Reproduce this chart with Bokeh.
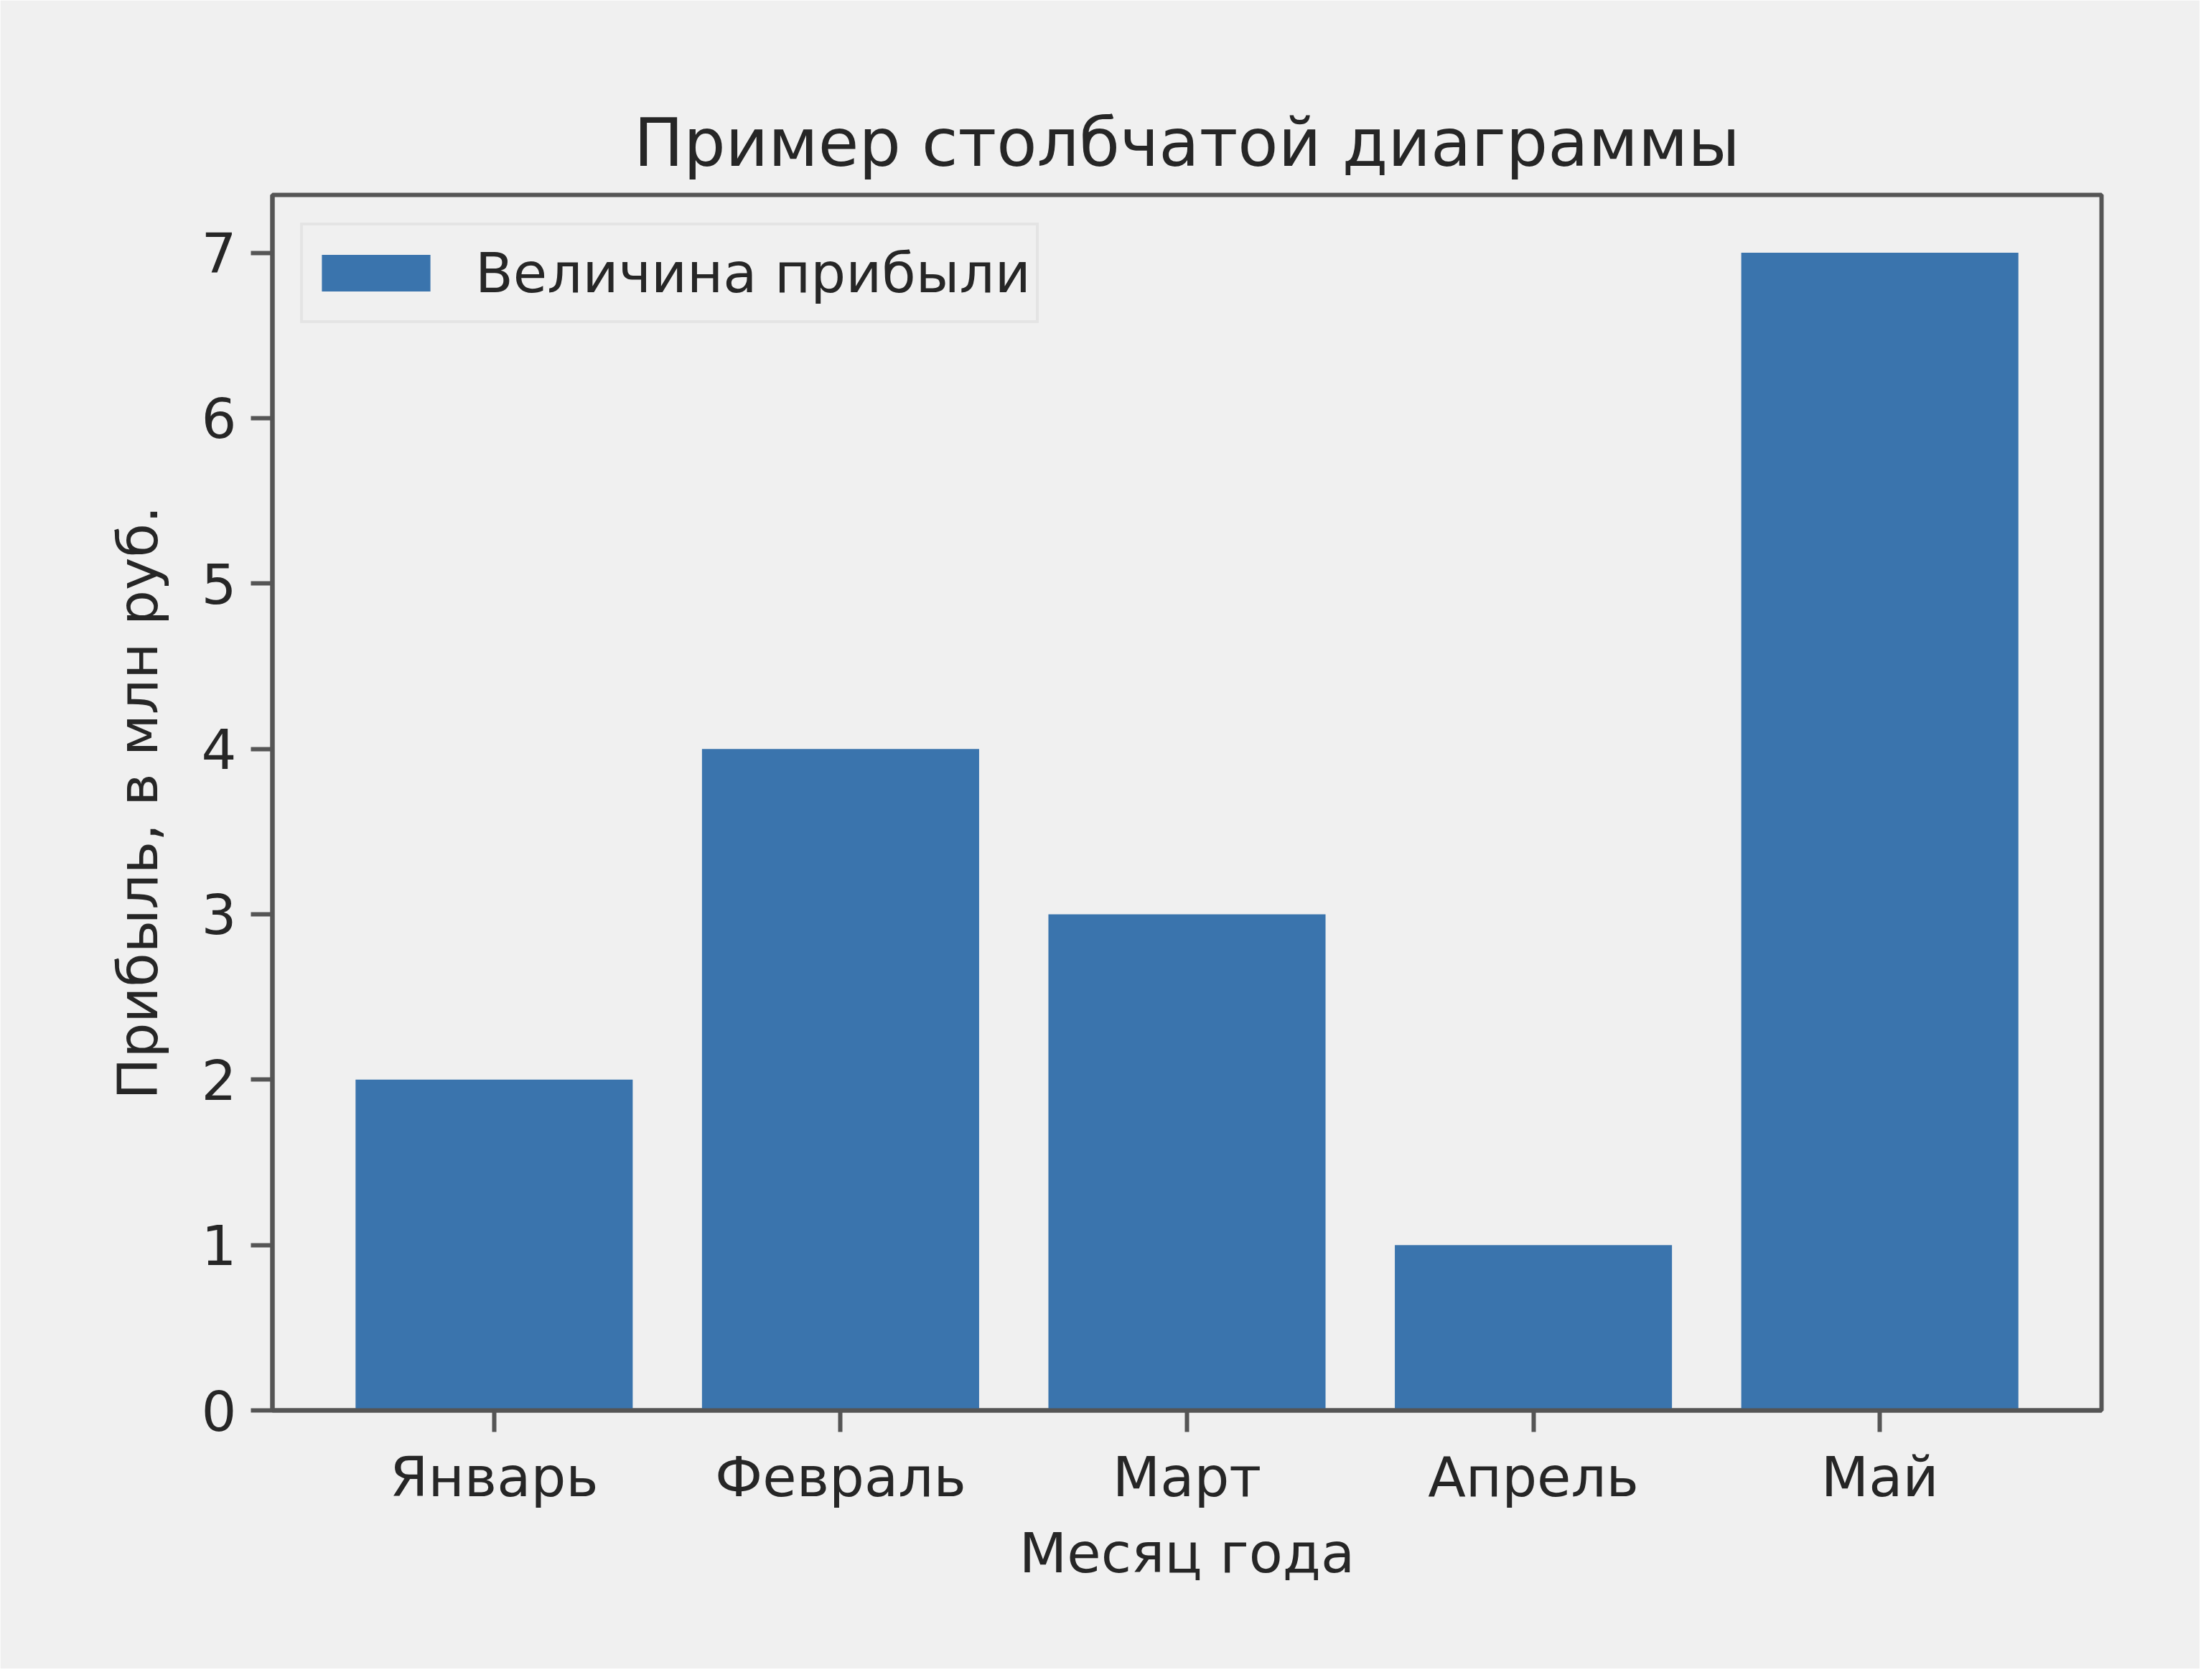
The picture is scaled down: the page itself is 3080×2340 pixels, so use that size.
from bokeh.plotting import figure
from bokeh.models import FactorRange, Range1d, FixedTicker, Legend, LegendItem, ColumnDataSource
from bokeh.embed import file_html
from bokeh.resources import INLINE

months = ["Январь", "Февраль", "Март", "Апрель", "Май"]
profit = [2, 4, 3, 1, 7]
y_ticks = [0, 1, 2, 3, 4, 5, 6, 7]
title_text = "Пример столбчатой диаграммы"
x_label = "Месяц года"
y_label = "Прибыль, в млн руб."
legend_label = "Величина прибыли"

BG = "#f0f0f0"
TXT = "#262626"
AX = "#555555"
FONT = "DejaVu Sans"

src = ColumnDataSource(dict(month=months, profit=profit))

p = figure(
    width=3064, height=2324,
    x_range=FactorRange(factors=months, range_padding=0.14, range_padding_units="absolute"),
    y_range=Range1d(0, 7.35),
    output_backend="svg", toolbar_location=None,
    min_border_left=379, min_border_right=137, min_border_top=271, min_border_bottom=360,
    background_fill_color=BG, border_fill_color=BG,
)

r = p.vbar(x="month", top="profit", width=0.8, source=src, fill_color="#3a74ad", line_color=None)

p.title.text = title_text
p.title.align = "center"
p.title.text_font = FONT
p.title.text_font_size = "92px"
p.title.text_font_style = "normal"
p.title.text_color = TXT
p.title.standoff = 38

p.xgrid.visible = False
p.ygrid.visible = False

p.outline_line_color = AX
p.outline_line_width = 6

for ax in (p.xaxis[0], p.yaxis[0]):
    ax.axis_line_color = AX
    ax.axis_line_width = 6
    ax.major_tick_line_color = AX
    ax.major_tick_line_width = 6
    ax.major_tick_in = 0
    ax.major_tick_out = 30
    ax.minor_tick_line_color = None
    ax.major_label_text_font = FONT
    ax.major_label_text_font_size = "77px"
    ax.major_label_text_color = TXT
    ax.axis_label_text_font = FONT
    ax.axis_label_text_font_size = "77px"
    ax.axis_label_text_font_style = "normal"
    ax.axis_label_text_color = TXT

p.xaxis.axis_label = x_label
p.yaxis.axis_label = y_label
p.xaxis.major_label_standoff = 18
p.xaxis.axis_label_standoff = 14
p.yaxis.major_label_standoff = 20
p.yaxis.axis_label_standoff = 41
p.yaxis.ticker = FixedTicker(ticks=y_ticks)

legend = Legend(
    items=[LegendItem(label=legend_label, renderers=[r])],
    location="top_left",
    margin=39,
    padding=7,
    glyph_width=189, glyph_height=64,
    label_standoff=44,
    label_height=118,
    label_text_font=FONT, label_text_font_size="77px", label_text_color=TXT,
    border_line_color="#d8d8d8", border_line_width=4,
    background_fill_color=BG, background_fill_alpha=1.0,
)
p.add_layout(legend)

open("out.html", "w").write(file_html(p, INLINE))
